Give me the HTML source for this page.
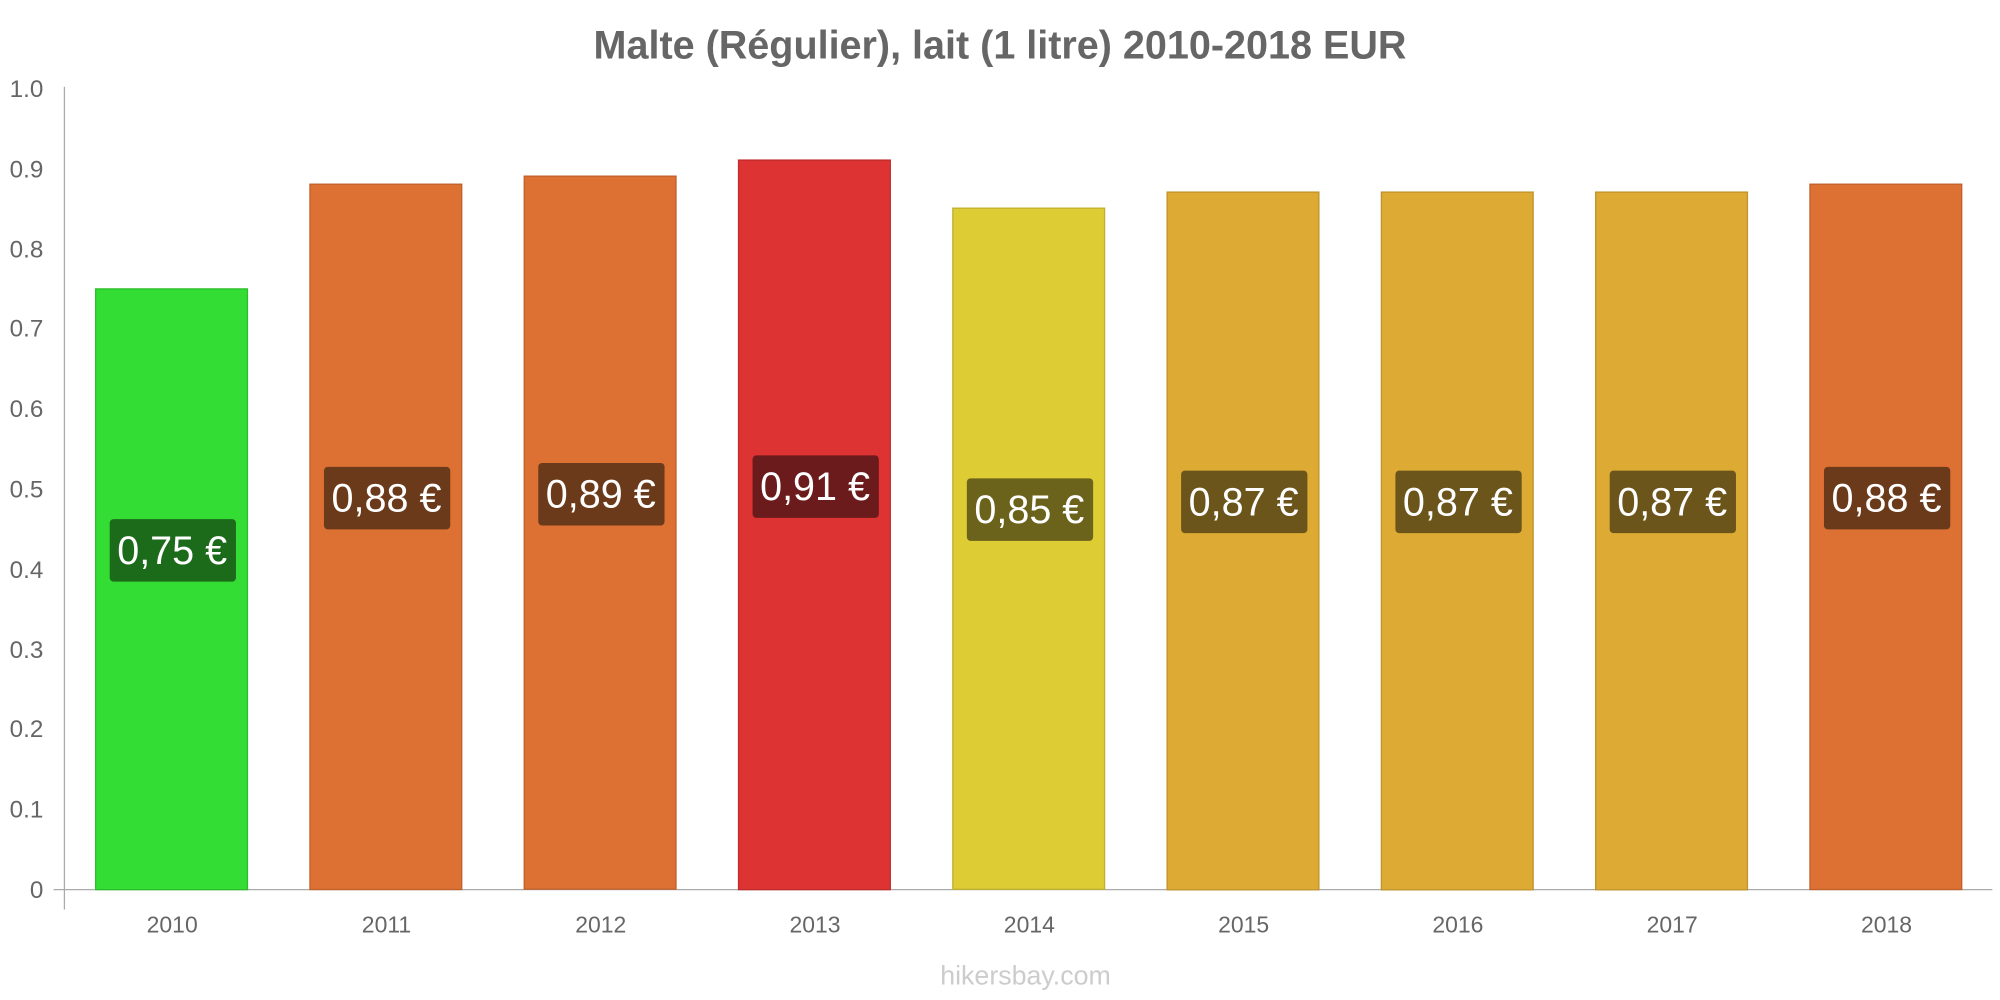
<!DOCTYPE html>
<html><head><style>html,body{margin:0;padding:0;background:#fff}svg{display:block}</style></head><body>
<svg width="2000" height="1000" viewBox="0 0 1568 784" xmlns="http://www.w3.org/2000/svg" font-family="Liberation Sans, sans-serif">
<text x="784" y="46" text-anchor="middle" font-size="31" font-weight="bold" fill="#666">Malte (Régulier), lait (1 litre) 2010-2018 EUR</text>
<line x1="50.5" y1="68" x2="50.5" y2="713" stroke="#aaa" stroke-width="1"/>
<line x1="42" y1="697.5" x2="1562" y2="697.5" stroke="#aaa" stroke-width="1"/>
<g font-size="19" fill="#666" text-anchor="end">
<text x="34" y="704">0</text><text x="34" y="641">0.1</text><text x="34" y="578">0.2</text><text x="34" y="516">0.3</text><text x="34" y="453">0.4</text><text x="34" y="390">0.5</text><text x="34" y="327">0.6</text><text x="34" y="264">0.7</text><text x="34" y="202">0.8</text><text x="34" y="139">0.9</text><text x="34" y="76">1.0</text>
</g>
<g stroke-width="1">
<rect x="75" y="226.5" width="119" height="471" fill="#33dd33" stroke="#2bbd2b"/>
<rect x="243" y="144.4" width="119" height="553" fill="#dd7033" stroke="#c0602b"/>
<rect x="411" y="138.1" width="119" height="559" fill="#dd7033" stroke="#c0602b"/>
<rect x="579" y="125.5" width="119" height="572" fill="#dd3333" stroke="#c02b2b"/>
<rect x="747" y="163.2" width="119" height="534" fill="#ddcc33" stroke="#c0b02b"/>
<rect x="915" y="150.6" width="119" height="547" fill="#ddaa33" stroke="#c0922b"/>
<rect x="1083" y="150.6" width="119" height="547" fill="#ddaa33" stroke="#c0922b"/>
<rect x="1251" y="150.6" width="119" height="547" fill="#ddaa33" stroke="#c0922b"/>
<rect x="1419" y="144.4" width="119" height="553" fill="#dd7033" stroke="#c0602b"/>
</g>
<g>
<rect x="86" y="407" width="99" height="49" rx="3" fill="#1b6b1b"/>
<rect x="254" y="366" width="99" height="49" rx="3" fill="#6b3a1b"/>
<rect x="422" y="363" width="99" height="49" rx="3" fill="#6b3a1b"/>
<rect x="590" y="357" width="99" height="49" rx="3" fill="#6b1b1b"/>
<rect x="758" y="375" width="99" height="49" rx="3" fill="#6b621b"/>
<rect x="926" y="369" width="99" height="49" rx="3" fill="#6b551b"/>
<rect x="1094" y="369" width="99" height="49" rx="3" fill="#6b551b"/>
<rect x="1262" y="369" width="99" height="49" rx="3" fill="#6b551b"/>
<rect x="1430" y="366" width="99" height="49" rx="3" fill="#6b3a1b"/>
</g>
<g font-size="31" fill="#fff" text-anchor="middle">
<text x="135" y="442">0,75 €</text><text x="303" y="401">0,88 €</text><text x="471" y="398">0,89 €</text><text x="639" y="392">0,91 €</text><text x="807" y="410">0,85 €</text><text x="975" y="404">0,87 €</text><text x="1143" y="404">0,87 €</text><text x="1311" y="404">0,87 €</text><text x="1479" y="401">0,88 €</text>
</g>
<g font-size="18" fill="#666" text-anchor="middle">
<text x="135" y="731">2010</text><text x="303" y="731">2011</text><text x="471" y="731">2012</text><text x="639" y="731">2013</text><text x="807" y="731">2014</text><text x="975" y="731">2015</text><text x="1143" y="731">2016</text><text x="1311" y="731">2017</text><text x="1479" y="731">2018</text>
</g>
<text x="804" y="772" text-anchor="middle" font-size="21" fill="#ccc">hikersbay.com</text>
</svg>
</body></html>
